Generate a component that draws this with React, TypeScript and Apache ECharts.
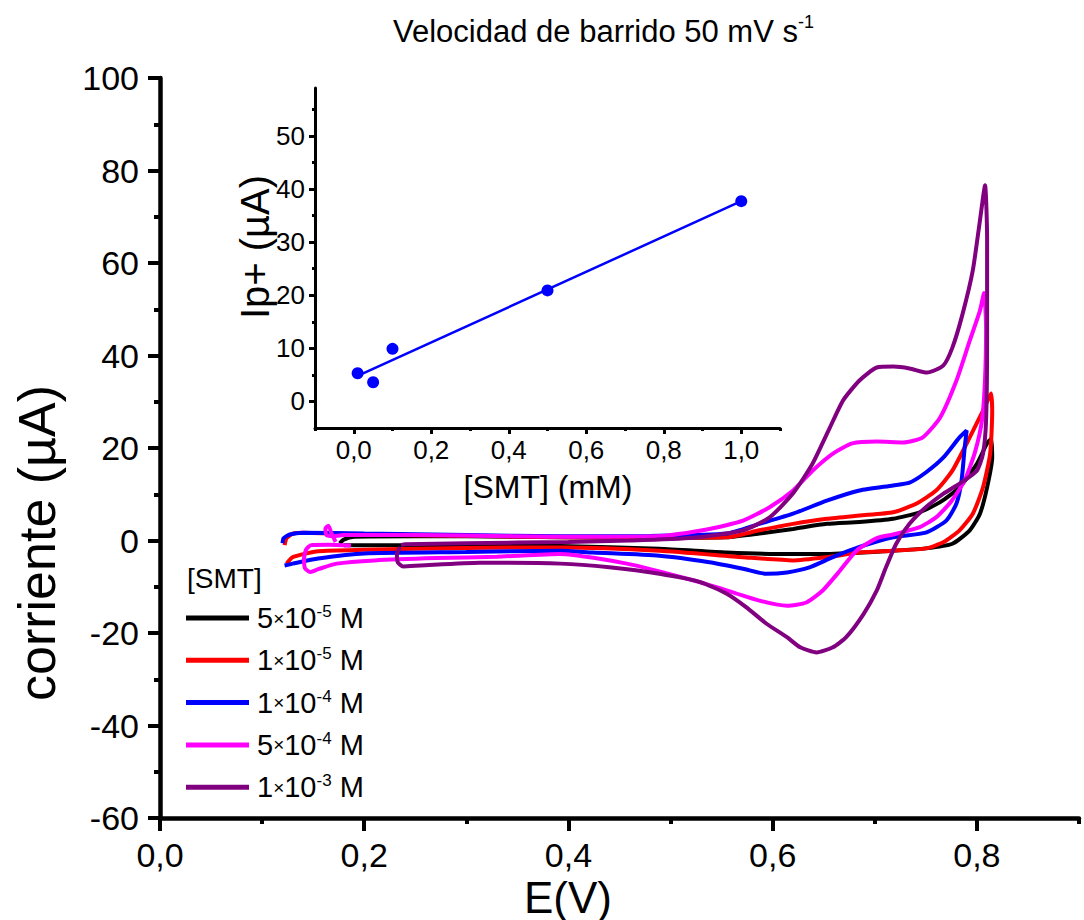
import React, { useEffect, useRef } from 'react';
import * as echarts from 'echarts';

const FONT = "'Liberation Sans', Arial, Helvetica, sans-serif";

// ---- Cyclic voltammograms: E (V) and current (µA), traced along each loop ----
const blackE = [0.176, 0.180, 0.19, 0.25, 0.30, 0.392, 0.45, 0.50, 0.555, 0.587, 0.62, 0.653, 0.685, 0.718, 0.744, 0.764, 0.783, 0.80, 0.81, 0.814, 0.815, 0.81, 0.803, 0.793, 0.776, 0.75, 0.718, 0.653, 0.604, 0.555, 0.489, 0.392, 0.30, 0.24, 0.18];
const blackI = [-0.6, 0.2, 0.8, 0.9, 0.9, 0.7, 0.6, 0.6, 0.7, 1.5, 2.5, 3.6, 4.0, 4.7, 6.1, 8.3, 11.5, 16.6, 21.0, 22.0, 18.0, 11.5, 5.8, 2.2, -0.7, -1.7, -2.2, -2.9, -2.9, -2.6, -1.8, -1.2, -1.1, -1.0, -1.0];

const redE = [0.122, 0.124, 0.13, 0.14, 0.2, 0.3, 0.392, 0.48, 0.555, 0.587, 0.62, 0.653, 0.685, 0.718, 0.741, 0.76, 0.776, 0.793, 0.806, 0.812, 0.814, 0.815, 0.813, 0.806, 0.796, 0.783, 0.767, 0.75, 0.718, 0.685, 0.653, 0.62, 0.571, 0.489, 0.392, 0.3, 0.2, 0.155, 0.13, 0.124];
const redI = [-1.0, 0.5, 1.5, 1.7, 1.3, 1.0, 0.7, 0.6, 0.7, 2.2, 3.6, 4.7, 5.4, 6.1, 8.0, 10.8, 15.1, 22.3, 28.1, 31.0, 31.8, 28.0, 18.8, 11.5, 5.8, 2.2, -0.4, -1.7, -2.2, -2.6, -3.6, -4.3, -3.6, -2.2, -1.5, -1.6, -2.0, -2.3, -3.6, -5.0];

const blueE = [0.12, 0.121, 0.127, 0.14, 0.2, 0.3, 0.392, 0.48, 0.555, 0.587, 0.62, 0.653, 0.685, 0.718, 0.734, 0.75, 0.767, 0.783, 0.79, 0.788, 0.785, 0.78, 0.77, 0.75, 0.718, 0.685, 0.659, 0.636, 0.614, 0.594, 0.571, 0.538, 0.489, 0.424, 0.392, 0.3, 0.2, 0.155, 0.13, 0.122];
const blueI = [-0.6, 0.5, 1.3, 1.7, 1.5, 1.2, 0.9, 1.0, 1.5, 3.6, 5.8, 8.6, 10.8, 11.9, 12.5, 14.7, 17.9, 22.3, 23.8, 20.0, 13.0, 8.0, 4.3, 1.7, 0.7, -1.4, -3.6, -5.8, -6.9, -7.2, -6.1, -4.7, -3.3, -2.6, -2.2, -2.5, -2.8, -3.9, -5.0, -5.4];

const magentaE = [0.172, 0.168, 0.165, 0.162, 0.163, 0.168, 0.18, 0.25, 0.3, 0.392, 0.49, 0.538, 0.571, 0.597, 0.62, 0.639, 0.659, 0.678, 0.702, 0.728, 0.747, 0.764, 0.78, 0.793, 0.803, 0.807, 0.809, 0.808, 0.805, 0.798, 0.788, 0.775, 0.76, 0.744, 0.718, 0.702, 0.682, 0.666, 0.649, 0.633, 0.614, 0.587, 0.561, 0.522, 0.457, 0.392, 0.33, 0.27, 0.21, 0.173, 0.155, 0.147, 0.142, 0.141, 0.143, 0.148, 0.165, 0.187];
const magentaI = [-0.3, 1.5, 3.2, 2.6, 1.2, 0.9, 1.2, 1.2, 1.1, 0.8, 1.0, 2.5, 4.3, 7.2, 10.8, 15.1, 18.8, 21.0, 21.4, 21.2, 22.3, 26.6, 34.6, 43.2, 49.7, 53.5, 46.0, 35.0, 26.0, 19.0, 13.0, 8.5, 5.0, 2.9, 1.3, 0.5, -2.2, -6.5, -10.8, -13.4, -14.1, -13.0, -11.2, -8.6, -5.0, -2.9, -3.5, -3.8, -4.3, -5.0, -6.2, -6.8, -6.0, -4.0, -2.0, -1.0, -0.9, -1.1];

const purpleE = [0.236, 0.24, 0.3, 0.4, 0.46, 0.522, 0.571, 0.597, 0.62, 0.639, 0.656, 0.669, 0.685, 0.702, 0.718, 0.734, 0.751, 0.767, 0.776, 0.786, 0.796, 0.803, 0.808, 0.81, 0.81, 0.809, 0.806, 0.80, 0.783, 0.767, 0.75, 0.734, 0.721, 0.711, 0.702, 0.689, 0.672, 0.659, 0.643, 0.627, 0.614, 0.594, 0.574, 0.555, 0.529, 0.489, 0.44, 0.392, 0.313, 0.255, 0.238, 0.233, 0.232, 0.235];
const purpleI = [-1.0, -0.8, -0.6, -0.3, 0.0, 0.6, 2.2, 5.0, 10.2, 16.6, 24.4, 30.3, 34.6, 37.4, 37.6, 37.2, 36.3, 37.8, 41.7, 49.0, 58.4, 69.2, 76.8, 65.5, 44.0, 26.0, 18.8, 15.1, 12.3, 10.1, 7.2, 3.6, -0.7, -5.8, -10.8, -15.9, -20.9, -23.1, -24.2, -23.1, -20.9, -18.0, -14.4, -11.5, -9.0, -7.2, -5.8, -5.0, -4.8, -5.4, -5.6, -4.8, -3.0, -1.4];

const seriesNames = ['5e-5', '1e-5', '1e-4', '5e-4', '1e-3'];
const seriesColors = ['#000000', '#ff0000', '#0000ff', '#ff00ff', '#800080'];
const legendMantissa = ['5', '1', '1', '5', '1'];
const legendExponent = ['-5', '-5', '-4', '-4', '-3'];

// ---- Inset: peak current vs concentration ----
const concMM = [0.01, 0.05, 0.1, 0.5, 1.0];
const ipPlus = [5.3, 3.6, 9.9, 20.9, 37.7];
const fitX = [0.01, 1.0];
const fitY = [4.8, 37.7];

// ---- Tick values ----
const mainXLabelVals = [0, 0.2, 0.4, 0.6, 0.8];
const mainXMinorVals = [0.1, 0.3, 0.5, 0.7, 0.9];
const insetXLabelVals = [0, 0.2, 0.4, 0.6, 0.8, 1.0];
const insetXMinorVals = [-0.1, 0.1, 0.3, 0.5, 0.7, 0.9, 1.1];
const insetYLabelVals = [0, 10, 20, 30, 40, 50];
const insetYMinorVals = [5, 15, 25, 35, 45, 55];

const zip = (a: number[], b: number[]) => a.map((v, i) => [v, b[i]]);
const comma = (v: number) => v.toFixed(1).replace('.', ',');

export default function App() {
  const ref = useRef<HTMLDivElement>(null);

  useEffect(() => {
    if (!ref.current) return;
    const chart = echarts.init(ref.current, undefined, { renderer: 'svg' });

    const curves = [
      zip(blackE, blackI),
      zip(redE, redI),
      zip(blueE, blueI),
      zip(magentaE, magentaI),
      zip(purpleE, purpleI),
    ];

    const axisLineBlack = (w: number) => ({ show: true, onZero: false, lineStyle: { color: '#000', width: w } });
    const noLine = { show: false, onZero: false };

    const option: any = {
      animation: false,
      backgroundColor: '#ffffff',
      title: {
        text: '{a|Velocidad de barrido 50 mV s}{b|-1}',
        left: 393,
        top: 13,
        padding: 0,
        textStyle: {
          fontWeight: 'normal',
          rich: {
            a: { fontFamily: FONT, fontSize: 31, fontWeight: 'normal', color: '#000', lineHeight: 37 },
            b: { fontFamily: FONT, fontSize: 18, fontWeight: 'normal', color: '#000', verticalAlign: 'top' },
          },
        },
      },
      grid: [
        { left: 160, top: 78, width: 919, height: 740, containLabel: false },
        { left: 315, top: 88, width: 465, height: 340, containLabel: false },
      ],
      xAxis: [
        {
          type: 'value', gridIndex: 0, position: 'bottom', min: 0, max: 0.9,
          axisLine: axisLineBlack(4.5),
          axisTick: { show: true, inside: false, length: 13, customValues: mainXLabelVals, lineStyle: { color: '#000', width: 4 } },
          axisLabel: { show: true, customValues: mainXLabelVals, formatter: (v: number) => comma(v), fontFamily: FONT, fontSize: 34, color: '#000', margin: 20 },
          splitLine: { show: false },
          z: 5,
        },
        {
          type: 'value', gridIndex: 0, position: 'bottom', offset: 0, min: 0, max: 0.9,
          axisLine: noLine,
          axisTick: { show: true, inside: false, length: 6, customValues: mainXMinorVals, lineStyle: { color: '#000', width: 4 } },
          axisLabel: { show: false },
          splitLine: { show: false },
        },
        {
          type: 'value', gridIndex: 1, position: 'bottom', min: -0.1, max: 1.1,
          axisLine: axisLineBlack(3),
          axisTick: { show: true, inside: false, length: 6, customValues: insetXLabelVals, lineStyle: { color: '#000', width: 3 } },
          axisLabel: { show: true, customValues: insetXLabelVals, formatter: (v: number) => comma(v), fontFamily: FONT, fontSize: 26, color: '#000', margin: 9 },
          splitLine: { show: false },
        },
        {
          type: 'value', gridIndex: 1, position: 'bottom', offset: 0, min: -0.1, max: 1.1,
          axisLine: noLine,
          axisTick: { show: true, inside: false, length: 3, customValues: insetXMinorVals, lineStyle: { color: '#000', width: 3 } },
          axisLabel: { show: false },
          splitLine: { show: false },
        },
      ],
      yAxis: [
        {
          type: 'value', gridIndex: 0, position: 'left', min: -60, max: 100, interval: 20,
          axisLine: axisLineBlack(4.5),
          axisTick: { show: true, inside: false, length: 12, lineStyle: { color: '#000', width: 4 } },
          minorTick: { show: true, splitNumber: 2, length: 6, lineStyle: { color: '#000', width: 4 } },
          axisLabel: { show: true, fontFamily: FONT, fontSize: 34, color: '#000', margin: 21 },
          splitLine: { show: false },
          minorSplitLine: { show: false },
        },
        {
          type: 'value', gridIndex: 1, position: 'left', min: -5, max: 59,
          axisLine: axisLineBlack(3),
          axisTick: { show: true, inside: false, length: 6, customValues: insetYLabelVals, lineStyle: { color: '#000', width: 3 } },
          axisLabel: { show: true, customValues: insetYLabelVals, fontFamily: FONT, fontSize: 26, color: '#000', margin: 10 },
          splitLine: { show: false },
        },
        {
          type: 'value', gridIndex: 1, position: 'left', offset: 0, min: -5, max: 59,
          axisLine: noLine,
          axisTick: { show: true, inside: false, length: 3, customValues: insetYMinorVals, lineStyle: { color: '#000', width: 3 } },
          axisLabel: { show: false },
          splitLine: { show: false },
        },
      ],
      legend: {
        data: seriesNames,
        orient: 'vertical',
        left: 186,
        top: 603,
        padding: 0,
        icon: 'rect',
        itemWidth: 63,
        itemHeight: 5,
        itemGap: 12.8,
        selectedMode: false,
        formatter: (name: string) => {
          const i = seriesNames.indexOf(name);
          return `{g|}{n|${legendMantissa[i]}}{x|×}{n|10}{s|${legendExponent[i]}}{n| M}`;
        },
        textStyle: {
          rich: {
            g: { width: 3, lineHeight: 30 },
            n: { fontFamily: FONT, fontSize: 29, color: '#000', lineHeight: 30 },
            x: { fontFamily: FONT, fontSize: 19, color: '#000', lineHeight: 30 },
            s: { fontFamily: FONT, fontSize: 17, color: '#000', verticalAlign: 'top' },
          },
        },
      },
      graphic: [
        { type: 'text', x: 187, y: 578, style: { text: '[SMT]', fontFamily: FONT, fontSize: 28, fill: '#000', align: 'left', verticalAlign: 'middle', textAlign: 'left', textVerticalAlign: 'middle' } },
        { type: 'text', x: 37, y: 543, rotation: Math.PI / 2, style: { text: 'corriente (µA)', fontFamily: FONT, fontSize: 52, fill: '#000', align: 'center', verticalAlign: 'middle', textAlign: 'center', textVerticalAlign: 'middle' } },
        { type: 'text', x: 568, y: 897, style: { text: 'E(V)', fontFamily: FONT, fontSize: 44, fill: '#000', align: 'center', verticalAlign: 'middle', textAlign: 'center', textVerticalAlign: 'middle' } },
        { type: 'text', x: 255, y: 247, rotation: Math.PI / 2, style: { text: 'Ip+ (µA)', fontFamily: FONT, fontSize: 40, fill: '#000', align: 'center', verticalAlign: 'middle', textAlign: 'center', textVerticalAlign: 'middle' } },
        { type: 'text', x: 548, y: 487, style: { text: '[SMT] (mM)', fontFamily: FONT, fontSize: 32, fill: '#000', align: 'center', verticalAlign: 'middle', textAlign: 'center', textVerticalAlign: 'middle' } },
      ],
      series: [
        ...curves.map((d, i) => ({
          name: seriesNames[i],
          type: 'line',
          xAxisIndex: 0,
          yAxisIndex: 0,
          data: d,
          showSymbol: false,
          symbol: 'none',
          smooth: 0.2,
          color: seriesColors[i],
          lineStyle: { color: seriesColors[i], width: 4 },
          itemStyle: { color: seriesColors[i] },
          z: 2 + i,
        })),
        {
          name: 'fit',
          type: 'line',
          xAxisIndex: 2,
          yAxisIndex: 1,
          data: zip(fitX, fitY),
          showSymbol: false,
          symbol: 'none',
          lineStyle: { color: '#0000ff', width: 2.5 },
          z: 10,
        },
        {
          name: 'Ip',
          type: 'scatter',
          xAxisIndex: 2,
          yAxisIndex: 1,
          data: zip(concMM, ipPlus),
          symbol: 'circle',
          symbolSize: 12,
          itemStyle: { color: '#0000ff', opacity: 1 },
          z: 11,
        },
      ],
    };

    chart.setOption(option);
    return () => chart.dispose();
  }, []);

  return (
    <div
      ref={ref}
      style={{ position: 'absolute', left: 0, top: 0, width: 1084, height: 920, background: '#fff' }}
    />
  );
}
